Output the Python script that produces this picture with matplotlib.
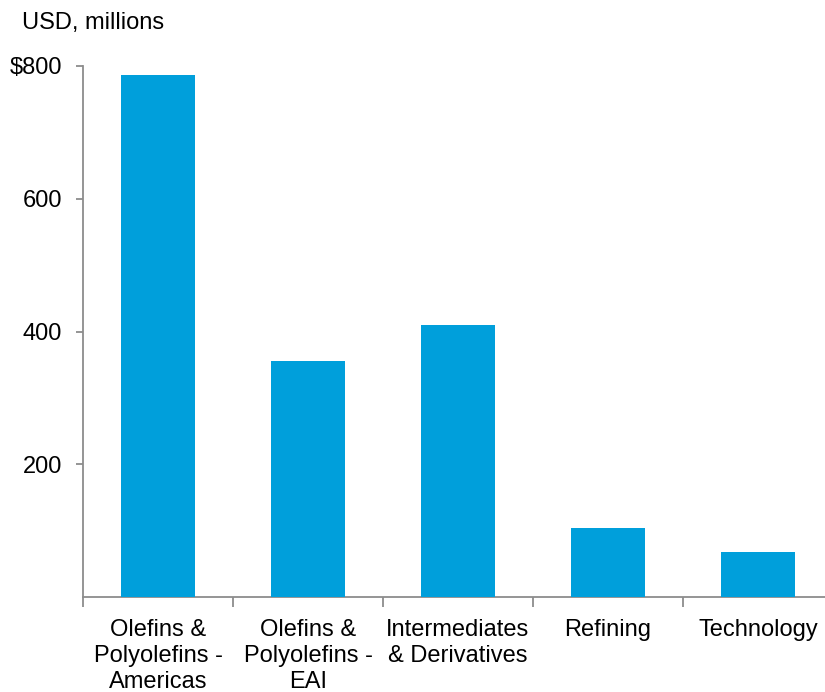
import matplotlib.pyplot as plt
import numpy as np

SEGMENTS = [
    "Olefins &\nPolyolefins -\nAmericas",
    "Olefins &\nPolyolefins -\nEAI",
    "Intermediates\n& Derivatives",
    "Refining",
    "Technology",
]
VALUES = [786, 356, 410, 104, 68]
YTICKS = [200, 400, 600, 800]
YTICK_LABELS = ["200", "400", "600", "$800"]


def main() -> None:
    plt.rcParams.update(
        {
            "font.family": ["Liberation Sans", "DejaVu Sans"],
            "font.size": 17,
        }
    )
    axis_color = "#8c8c8c"

    fig = plt.figure(figsize=(8.25, 6.92), dpi=100)
    ax = fig.add_axes([83 / 825, 1 - 597 / 692, 750 / 825, (597 - 66) / 692])

    x = np.arange(len(SEGMENTS))
    ax.bar(x, VALUES, width=0.49, color="#009fdb", zorder=3)

    ax.set_xlim(-0.5, len(SEGMENTS) - 0.5)
    ax.set_ylim(0, 800)
    ax.set_yticks(YTICKS)
    ax.set_yticklabels(YTICK_LABELS)
    ax.set_xticks(x)
    ax.set_xticklabels(SEGMENTS, linespacing=1.23)
    ax.set_xticks(np.arange(len(SEGMENTS) + 1) - 0.5, minor=True)
    ax.tick_params(axis="x", which="major", length=0, pad=16)
    ax.tick_params(axis="x", which="minor", length=7, width=1.3, color=axis_color)
    ax.tick_params(axis="y", length=5, width=1.3, color=axis_color, pad=10)

    for side in ("top", "right"):
        ax.spines[side].set_visible(False)
    for side in ("left", "bottom"):
        ax.spines[side].set_color(axis_color)
        ax.spines[side].set_linewidth(1.3)

    fig.text(22 / 825, 1 - 12 / 692, "USD, millions", ha="left", va="top",
             fontsize=17)

    fig.savefig("out.png", dpi=100)
    plt.close(fig)


if __name__ == "__main__":
    main()
